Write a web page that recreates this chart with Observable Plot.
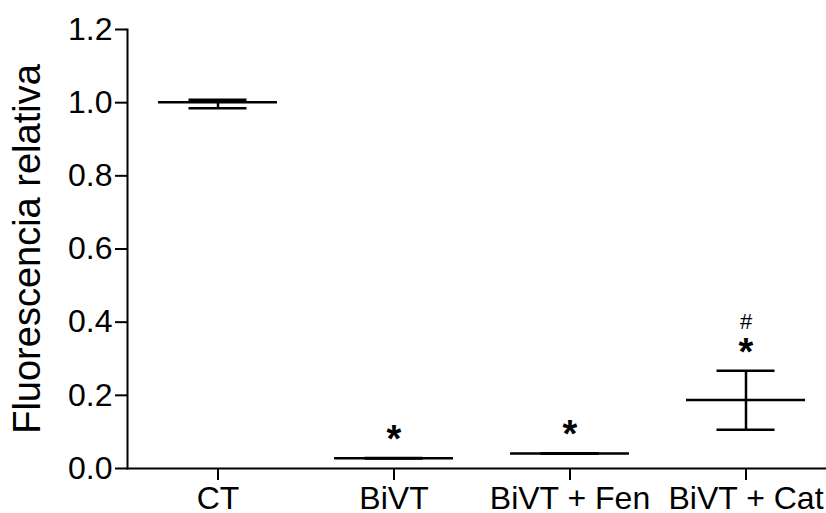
<!DOCTYPE html>
<html>
<head>
<meta charset="utf-8">
<script src="https://cdn.jsdelivr.net/npm/d3@7"></script>
<script src="https://cdn.jsdelivr.net/npm/@observablehq/plot@0.6"></script>
<style>
  html, body { margin: 0; padding: 0; background: #fff; }
  svg { display: block; }
</style>
</head>
<body>
<div id="chart"></div>
<script>
const groups = ["CT", "BiVT", "BiVT + Fen", "BiVT + Cat"];
const means  = [1.001, 0.028, 0.041, 0.187];
const lower  = [0.985, 0.027, 0.040, 0.106];
const upper  = [1.008, 0.029, 0.042, 0.267];
const stars  = ["", "*", "*", "*"];
const hashes = ["", "", "", "#"];
const yTicks = [0, 0.2, 0.4, 0.6, 0.8, 1.0, 1.2];
const yLabel = "Fluorescencia relativa";

const data = groups.map((g, i) => ({
  group: g, mean: means[i], lo: lower[i], hi: upper[i], star: stars[i], hash: hashes[i]
}));

const font = "Liberation Sans, Arial, Helvetica, sans-serif";

const chart = Plot.plot({
  width: 826,
  height: 513,
  marginLeft: 127,
  marginRight: 0,
  marginTop: 29,
  marginBottom: 45,
  style: { fontFamily: font, background: "#fff", color: "#000" },
  x: { type: "band", domain: groups, range: [100.2, 862.7], padding: 0.325 },
  y: { domain: [0, 1.2] },
  marks: [
    Plot.frame({ anchor: "left", stroke: "#000", strokeWidth: 2 }),
    Plot.frame({ anchor: "bottom", stroke: "#000", strokeWidth: 2 }),
    Plot.axisY({ ticks: yTicks, tickFormat: d3.format(".1f"), tickSize: 12, tickPadding: 3,
      fontSize: 32, label: null, strokeWidth: 2 }),
    Plot.axisX({ tickSize: 12, tickPadding: 6, fontSize: 32, label: null, strokeWidth: 2 }),
    Plot.text([yLabel], { frameAnchor: "left", textAnchor: "middle", dx: -100, rotate: -90, fontSize: 38, fill: "#000" }),
    Plot.tickY(data, { x: "group", y: "mean", stroke: "#000", strokeWidth: 2.5 }),
    Plot.tickY(data, { x: "group", y: "lo", stroke: "#000", strokeWidth: 2.5, insetLeft: 30.5, insetRight: 30.5 }),
    Plot.tickY(data, { x: "group", y: "hi", stroke: "#000", strokeWidth: 2.5, insetLeft: 30.5, insetRight: 30.5 }),
    Plot.ruleX(data, { x: "group", y1: "lo", y2: "hi", stroke: "#000", strokeWidth: 2.5 }),
    Plot.text(data, { x: "group", y: "hi", text: "star", dy: -18, fontSize: 38, fontWeight: "bold", fill: "#000" }),
    Plot.text(data, { x: "group", y: "hi", text: "hash", dy: -49, fontSize: 22, fill: "#000" })
  ]
});

document.getElementById("chart").appendChild(chart);
</script>
</body>
</html>
